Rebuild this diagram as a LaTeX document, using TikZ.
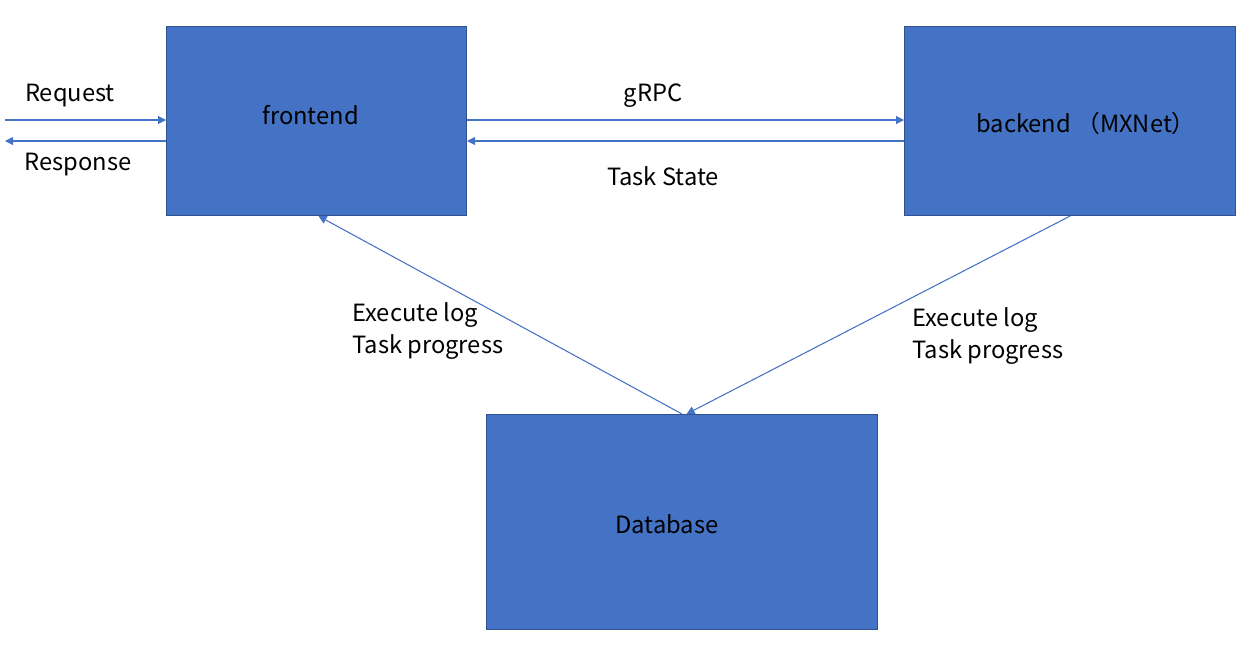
\documentclass[tikz,border=0pt]{standalone}
\usepackage{fontspec}
\setmainfont{Noto Sans CJK SC}
\usepackage{tikz}
\usetikzlibrary{arrows.meta}

\definecolor{boxfill}{HTML}{4472C4}
\definecolor{boxline}{HTML}{2F528F}

\begin{document}
\begin{tikzpicture}

  \useasboundingbox (0,0) rectangle (24.98,-12.9);

  \node[anchor=center,inner sep=0mm] (X) at (0,0) {};

  % node styles
  \tikzstyle{Box}=[
  anchor=north west,
  draw=boxline,
  fill=boxfill,
  line width=0.6pt,
  inner sep=0mm,
  shape=rectangle]

  \tikzstyle{Label}=[font=\fontsize{13.5}{17}\selectfont,inner sep=0mm]
  \tikzstyle{Link}=[draw=boxfill,line width=0.6pt,-{Triangle[length=1.6mm,width=1.6mm]}]

  % boxes
  \draw (X) node[Box,minimum width=6.00cm,minimum height=3.78cm] (F) at +( 3.32,-0.52) {};
  \draw (X) node[Box,minimum width=6.62cm,minimum height=3.78cm] (B) at +(18.08,-0.52) {};
  \draw (X) node[Box,minimum width=7.82cm,minimum height=4.30cm] (D) at +( 9.72,-8.28) {};

  \draw (F.center) node[Label] (Ft) at +(-0.12, 0.12) {frontend};
  \draw (B.center) node[Label] (Bt) at +( 0.32,-0.04) {backend （MXNet）};
  \draw (D.center) node[Label] (Dt) at +(-0.30,-0.04) {Database};

  % client side
  \coordinate (C1) at (0.10,-2.40);
  \coordinate (C2) at (0.10,-2.82);
  \draw[Link] (C1) -- (C1 -| F.west);
  \draw[Link] (C2 -| F.west) -- (C2);
  \draw (X) node[Label] (Lreq) at +(1.40,-1.92) {Request};
  \draw (X) node[Label] (Lres) at +(1.56,-3.30) {Response};

  % frontend <-> backend
  \draw[Link] (C1 -| F.east) -- (C1 -| B.west);
  \draw[Link] (C2 -| B.west) -- (C2 -| F.east);
  \draw (X) node[Label] (Lrpc) at +(13.06,-1.92) {gRPC};
  \draw (X) node[Label] (Lst)  at +(13.26,-3.52) {Task State};

  % database
  \draw[Link] (D.north) -- ([xshift=0.04cm]F.south);
  \draw[Link] (B.south) -- ([xshift=0.09cm]D.north);
  \draw (X) node[Label,anchor=west,align=left] (Lfl) at +( 7.04,-6.62) {Execute log\\[1pt]Task progress};
  \draw (X) node[Label,anchor=west,align=left] (Lbl) at +(18.24,-6.72) {Execute log\\[1pt]Task progress};

\end{tikzpicture}
\end{document}
